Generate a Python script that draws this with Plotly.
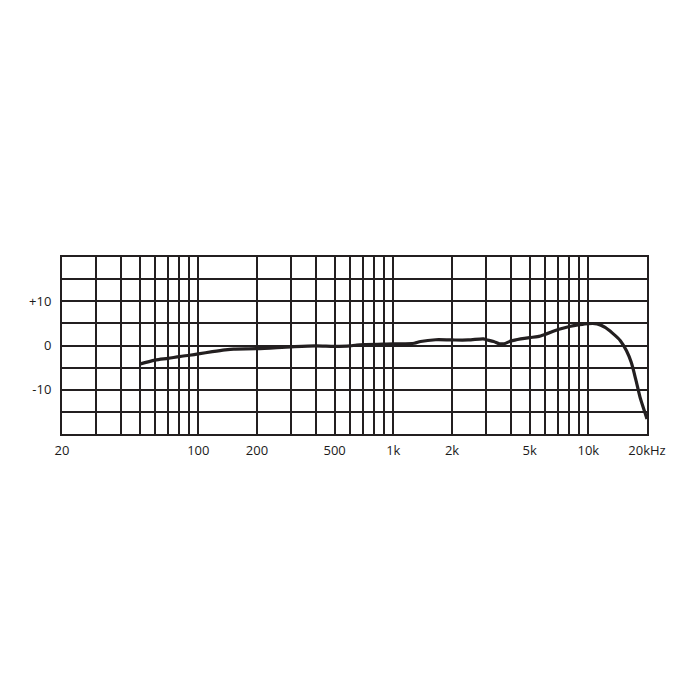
import plotly.graph_objects as go

# Frequency response (Hz, dB)
freq_hz = [50, 60, 70, 80, 90, 100, 118, 137, 152, 200, 300, 400, 500, 600, 650,
           1000, 1280, 1380, 1650, 2000, 2420, 2900, 3000, 3270, 3500, 3700, 4000,
           4500, 5000, 5500, 6000, 7000, 8000, 9000, 10000, 11100, 12200, 13300,
           14600, 15700, 16600, 17500, 18400, 19400, 20000]
level_db = [-4.2, -3.3, -2.9, -2.5, -2.2, -1.9, -1.4, -1.0, -0.8, -0.7, -0.3, -0.1, -0.2, -0.1, 0.1,
            0.35, 0.5, 0.9, 1.3, 1.25, 1.25, 1.5, 1.3, 0.9, 0.4, 0.4, 1.0,
            1.5, 1.8, 2.0, 2.5, 3.6, 4.3, 4.7, 4.95, 4.9, 4.1, 2.8,
            1.1, -1.2, -3.8, -7.6, -11.6, -14.8, -16.6]

# Axis ticks / grid
x_major = [20, 100, 200, 500, 1000, 2000, 5000, 10000, 20000]
x_major_text = ["20", "100", "200", "500", "1k", "2k", "5k", "10k", "20kHz"]
x_minor = [30, 40, 50, 60, 70, 80, 90, 300, 400, 600, 700, 800, 900,
           3000, 4000, 6000, 7000, 8000, 9000]
y_ticks = [-20, -15, -10, -5, 0, 5, 10, 15, 20]
y_text = ["", "", "-10", "", "0", "", "+10", "", ""]

INK = "#231f20"

fig = go.Figure()
fig.add_trace(go.Scatter(
    x=freq_hz, y=level_db, mode="lines",
    line=dict(color=INK, width=3.2, shape="spline", smoothing=0.8),
    hoverinfo="skip", showlegend=False,
))

fig.update_layout(
    width=700, height=700,
    margin=dict(l=54, r=61, t=249, b=274),
    paper_bgcolor="white", plot_bgcolor="white",
    font=dict(family="Open Sans, sans-serif", size=13, color="#1a1a1a"),
    showlegend=False,
)

fig.update_xaxes(
    type="log", range=[1.30103, 4.30103],
    tickmode="array", tickvals=x_major, ticktext=x_major_text,
    showgrid=True, gridcolor=INK, gridwidth=1.8,
    minor=dict(tickmode="array", tickvals=x_minor, showgrid=True,
               gridcolor=INK, gridwidth=1.8, ticks=""),
    ticks="", ticklabelstandoff=3,
    showline=True, linecolor=INK, linewidth=2, mirror=True,
    zeroline=False, fixedrange=True,
)
fig.update_yaxes(
    range=[-20, 20],
    tickmode="array", tickvals=y_ticks, ticktext=y_text,
    showgrid=True, gridcolor=INK, gridwidth=1.8,
    ticks="", ticklabelstandoff=6,
    showline=True, linecolor=INK, linewidth=2, mirror=True,
    zeroline=False, fixedrange=True,
)

fig.write_html("out.html")
